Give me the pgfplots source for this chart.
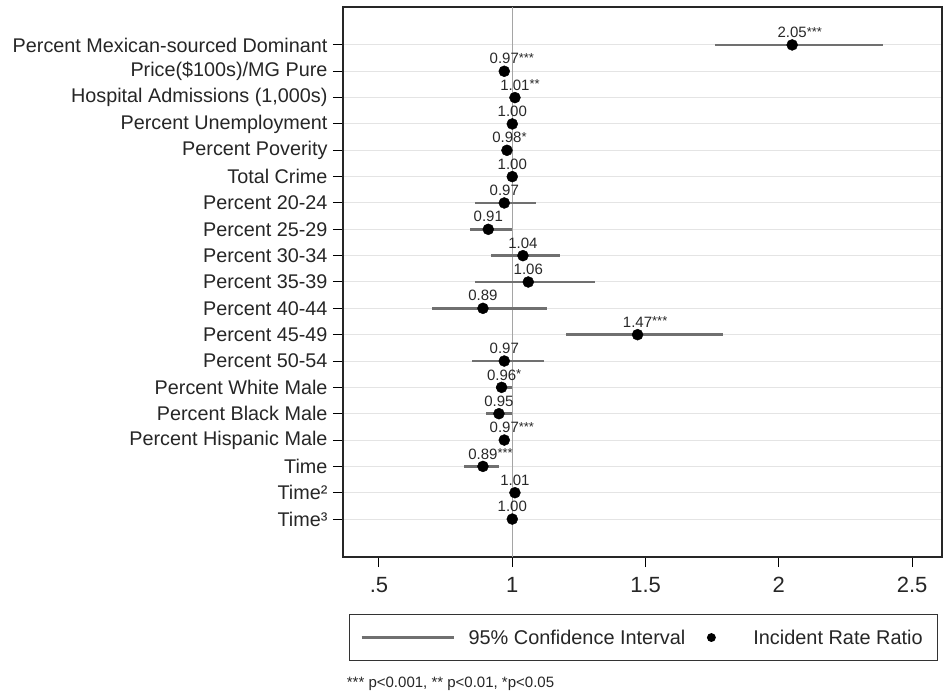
\documentclass[border=0pt]{standalone}
\usepackage{fontspec}
\setmainfont{Liberation Sans}
\usepackage{pgfplots}
\usepackage{pgfplotstable}
\pgfplotsset{compat=1.18}
\definecolor{cigray}{RGB}{112,112,112}
\definecolor{gridgray}{RGB}{228,228,228}
\definecolor{refgray}{RGB}{165,165,165}
\definecolor{labgray}{RGB}{40,40,40}
\newcommand\ylabfont{\fontsize{19.8bp}{22bp}\selectfont}
\newcommand\xtickfont{\fontsize{22bp}{24bp}\selectfont}
\newcommand\valfont{\fontsize{15bp}{16bp}\selectfont}
\newcommand\legfont{\fontsize{19.9bp}{22bp}\selectfont}
\newcommand\footfont{\fontsize{15bp}{17bp}\selectfont}
\newcommand\stx[1]{\rlap{\raisebox{1.5bp}{\fontsize{13bp}{13bp}\selectfont #1}}}
\newcommand\Sone{\stx{*}}
\newcommand\Stwo{\stx{**}}
\newcommand\Sthree{\stx{***}}

\pgfplotstableread{
y  x    lo    hi    lab
19 2.05 1.76  2.39  2.05\Sthree
18 0.97 0.96  0.98  0.97\Sthree
17 1.01 1.00  1.02  1.01\Stwo
16 1.00 0.99  1.01  1.00
15 0.98 0.97  0.99  0.98\Sone
14 1.00 0.99  1.01  1.00
13 0.97 0.86  1.09  0.97
12 0.91 0.84  1.00  0.91
11 1.04 0.92  1.18  1.04
10 1.06 0.86  1.31  1.06
9  0.89 0.70  1.13  0.89
8  1.47 1.20  1.79  1.47\Sthree
7  0.97 0.85  1.12  0.97
6  0.96 0.94  1.00  0.96\Sone
5  0.95 0.90  1.00  0.95
4  0.97 0.96  0.98  0.97\Sthree
3  0.89 0.82  0.95  0.89\Sthree
2  1.01 1.00  1.02  1.01
1  1.00 0.99  1.01  1.00
}\data

\begin{document}
\begin{tikzpicture}
\begin{axis}[
  scale only axis, width=599bp, height=550bp,
  xmin=0.365, xmax=2.612, ymin=-0.44, ymax=20.44,
  xtick={0.5,1,1.5,2,2.5}, xticklabels={.5,1,1.5,2,2.5},
  ytick={1,...,19},
  yticklabels={Time³,Time²,Time,Percent Hispanic Male,Percent Black Male,Percent White Male,Percent 50-54,Percent 45-49,Percent 40-44,Percent 35-39,Percent 30-34,Percent 25-29,Percent 20-24,Total Crime,Percent Poverity,Percent Unemployment,{Hospital Admissions (1,000s)},Price(\$100s)/MG Pure,Percent Mexican-sourced Dominant},
  tick align=outside, xtick pos=bottom, ytick pos=left,
  major tick length=10bp,
  tick style={black, line width=1bp},
  ymajorgrids, major grid style={gridgray, line width=1bp},
  axis line style={black!85, line width=1.4bp},
  x tick label style={font=\xtickfont, text=black!85, yshift=-7bp},
  y tick label style={font=\ylabfont, text=black!85, xshift=-2bp},
  /pgf/number format/assume math mode=true,
  legend columns=2,
  legend style={at={(0.01,-0.1036)}, anchor=north west,
    draw=black!80, line width=1.2bp, inner xsep=0pt, inner ysep=15bp,
    /tikz/column sep=0pt, font=\legfont, text=black!85,
    nodes={inner sep=0pt}},
]
\addplot[refgray, line width=1bp, forget plot] coordinates {(1,-0.44) (1,20.44)};
\addplot[only marks, mark=*, mark size=5.5bp, black, forget plot,
  point meta=explicit symbolic,
  nodes near coords,
  nodes near coords style={anchor=south, inner sep=0pt, yshift=7bp, font=\valfont, text=labgray},
  error bars/x dir=both, error bars/x explicit, error bars/error mark=none,
  error bars/error bar style={line width=2.6bp, draw=cigray, color=cigray}]
  table[x=x, y=y, meta=lab,
    x error plus expr=\thisrow{hi}-\thisrow{x},
    x error minus expr=\thisrow{x}-\thisrow{lo}] {\data};
\addlegendimage{legend image code/.code={\draw[cigray, line width=2.2bp] (12bp,0bp) -- (104bp,0bp); \path[draw=none,fill=none] (0bp,0bp) -- (119bp,0bp);}}
\addlegendentry{95\% Confidence Interval}
\addlegendimage{legend image code/.code={\fill[black] (26bp,0bp) circle (3.8bp); \path[draw=none,fill=none] (0bp,0bp) -- (68bp,0bp);}}
\addlegendentry{Incident Rate Ratio\hspace*{15bp}}
\coordinate (bl) at (rel axis cs:0,0);
\end{axis}
\node[anchor=west, inner sep=0pt, font=\footfont, text=black!85] at ([xshift=3.7bp, yshift=-127bp]bl) {*** p<0.001, ** p<0.01, *p<0.05};
\path ([xshift=-343bp,yshift=-140bp]bl) rectangle ([xshift=600bp,yshift=557bp]bl);
\end{tikzpicture}
\end{document}
